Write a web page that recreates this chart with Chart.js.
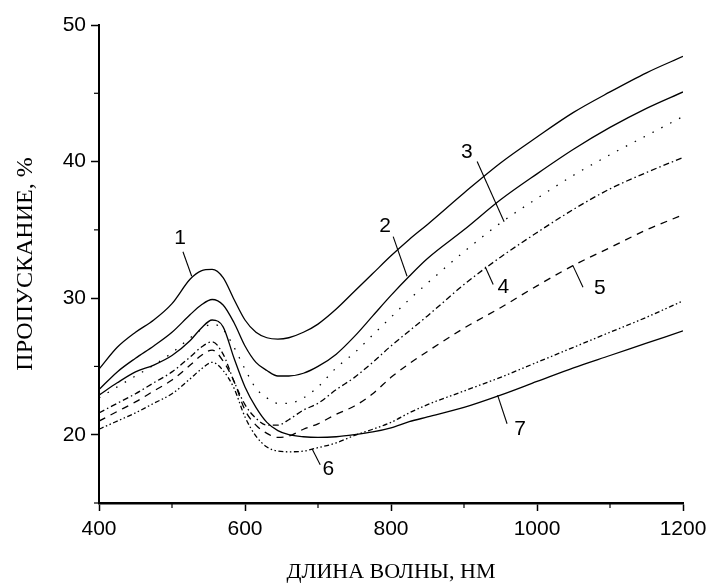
<!DOCTYPE html>
<html>
<head>
<meta charset="utf-8">
<script src="https://cdn.jsdelivr.net/npm/chart.js@4/dist/chart.umd.min.js"></script>
<style>
  html, body { margin: 0; padding: 0; background: #fff; }
  #wrap { width: 713px; height: 583px; }
</style>
</head>
<body>
<div id="wrap"><canvas id="chart" width="713" height="583"></canvas></div>
<script>
'use strict';

// wavelength grid (nm) shared by every curve
var wavelengths = [400, 425, 450, 475, 500, 525, 540, 555, 570, 585, 600, 615, 630, 645, 660,
                   680, 700, 725, 750, 775, 800, 825, 850, 900, 950, 1000, 1050, 1100, 1150, 1200];

// transmission, %
var curve1 = [24.8, 26.4, 27.5, 28.4, 29.6, 31.4, 32.0, 32.1, 31.5, 29.9, 28.4, 27.5, 27.1, 27.0, 27.1,
              27.5, 28.1, 29.2, 30.5, 31.8, 33.1, 34.3, 35.4, 37.7, 39.9, 41.8, 43.6, 45.1, 46.5, 47.7];
var curve2 = [23.3, 24.6, 25.6, 26.5, 27.5, 28.8, 29.5, 29.9, 29.5, 28.2, 26.5, 25.3, 24.7, 24.3, 24.3,
              24.5, 25.0, 25.9, 27.2, 28.7, 30.2, 31.6, 32.9, 35.0, 37.2, 39.1, 40.9, 42.5, 43.9, 45.1];
var curve3 = [22.7, 23.5, 24.3, 25.1, 26.0, 27.1, 27.7, 28.1, 27.7, 26.4, 24.8, 23.4, 22.7, 22.3, 22.3,
              22.7, 23.5, 24.9, 26.0, 27.3, 28.6, 29.9, 31.1, 33.4, 35.5, 37.3, 39.0, 40.5, 41.9, 43.3];
var curve4 = [21.6, 22.3, 23.0, 23.8, 24.6, 25.7, 26.4, 26.8, 25.9, 23.9, 22.2, 21.2, 20.7, 20.7, 21.1,
              21.8, 22.3, 23.3, 24.2, 25.3, 26.5, 27.6, 28.7, 31.0, 33.0, 34.8, 36.5, 38.0, 39.2, 40.3];
var curve5 = [21.0, 21.7, 22.4, 23.2, 24.0, 25.1, 25.8, 26.2, 25.4, 23.9, 21.8, 20.7, 20.1, 19.8, 19.9,
              20.4, 20.8, 21.5, 22.1, 23.0, 24.2, 25.2, 26.1, 27.8, 29.3, 30.9, 32.4, 33.7, 35.0, 36.1];
var curve6 = [20.4, 21.0, 21.6, 22.3, 23.0, 24.1, 24.8, 25.3, 24.7, 23.4, 21.3, 19.9, 19.1, 18.8, 18.75,
              18.8, 19.05, 19.4, 19.95, 20.4, 20.9, 21.6, 22.2, 23.2, 24.2, 25.3, 26.4, 27.5, 28.6, 29.8];
var curve7 = [22.9, 23.8, 24.6, 25.1, 25.8, 26.9, 27.8, 28.4, 27.9, 25.6, 23.5, 22.0, 20.9, 20.3, 20.0,
              19.85, 19.8, 19.85, 20.0, 20.2, 20.5, 20.95, 21.3, 22.0, 22.9, 23.9, 24.9, 25.8, 26.7, 27.6];

var xTickValues = [400, 600, 800, 1000, 1200];
var yTickValues = [20, 30, 40, 50];
var xMinorTicks = [500, 700, 900, 1100];
var yMinorTicks = [15, 25, 35, 45];

// curve numbers, in data units: text position, leader line start and end
var curveNames = ['1', '2', '3', '4', '5', '6', '7'];
var nameAt     = [[511, 34.4], [792, 35.3], [904, 40.7], [954, 30.8], [1086, 30.7], [714, 17.5], [977, 20.4]];
var leaderFrom = [[515, 33.4], [803, 34.5], [918, 40.0], [929, 32.3], [1049, 32.4], [692, 18.95], [946, 22.9]];
var leaderTo   = [[527, 31.6], [822, 31.6], [955, 35.6], [940, 31.0], [1063, 30.8], [703, 17.8], [959, 20.8]];

var dashes = [[], [], [1.5, 8.5], [6, 3, 1.5, 3], [7, 6], [5, 2.5, 1.5, 2.5, 1.5, 2.5], []];
var curves = [curve1, curve2, curve3, curve4, curve5, curve6, curve7];

function toPoints(values) {
    return wavelengths.map(function(w, i) {
        return { x: w, y: values[i] };
    });
}

var datasets = curves.map(function(values, i) {
    return {
        label: curveNames[i],
        data: toPoints(values),
        borderColor: '#000',
        borderWidth: 1.3,
        borderDash: dashes[i],
        pointRadius: 0,
        fill: false,
        cubicInterpolationMode: 'monotone'
    };
});

// minor ticks and curve numbers with their leader lines
var annotations = {
    id: 'annotations',
    afterDatasetsDraw: function(chart) {
        var ctx = chart.ctx;
        var xs = chart.scales.x;
        var ys = chart.scales.y;
        ctx.save();
        ctx.strokeStyle = '#000';
        ctx.lineWidth = 1.2;

        xMinorTicks.forEach(function(v) {
            var px = xs.getPixelForValue(v);
            ctx.beginPath();
            ctx.moveTo(px, xs.top);
            ctx.lineTo(px, xs.top + 5);
            ctx.stroke();
        });
        yMinorTicks.forEach(function(v) {
            var py = ys.getPixelForValue(v);
            ctx.beginPath();
            ctx.moveTo(ys.right - 5, py);
            ctx.lineTo(ys.right, py);
            ctx.stroke();
        });

        ctx.lineWidth = 1.1;
        for (var i = 0; i < curveNames.length; i++) {
            ctx.beginPath();
            ctx.moveTo(xs.getPixelForValue(leaderFrom[i][0]), ys.getPixelForValue(leaderFrom[i][1]));
            ctx.lineTo(xs.getPixelForValue(leaderTo[i][0]), ys.getPixelForValue(leaderTo[i][1]));
            ctx.stroke();
        }

        ctx.fillStyle = '#000';
        ctx.font = '21px "Liberation Sans"';
        ctx.textAlign = 'center';
        ctx.textBaseline = 'middle';
        for (var j = 0; j < curveNames.length; j++) {
            ctx.fillText(curveNames[j], xs.getPixelForValue(nameAt[j][0]), ys.getPixelForValue(nameAt[j][1]));
        }
        ctx.restore();
    }
};

function plainNumber(v) {
    return String(v);
}

new Chart(document.getElementById('chart').getContext('2d'), {
    type: 'line',
    data: { datasets: datasets },
    plugins: [annotations],
    options: {
        responsive: false,
        animation: false,
        layout: { padding: { top: 25, right: 30, left: 0, bottom: 0 } },
        plugins: {
            legend: { display: false },
            tooltip: { enabled: false }
        },
        scales: {
            x: {
                type: 'linear',
                min: 400,
                max: 1200,
                afterBuildTicks: function(s) {
                    s.ticks = xTickValues.map(function(v) { return { value: v }; });
                },
                afterFit: function(s) { s.height = 80; },
                grid: { drawOnChartArea: false, drawTicks: true, tickLength: 8, color: '#000', tickWidth: 1.5 },
                border: { display: true, color: '#000', width: 2.5 },
                ticks: {
                    color: '#000',
                    padding: 6,
                    maxRotation: 0,
                    autoSkip: false,
                    callback: plainNumber,
                    font: { family: 'Liberation Sans', size: 21 }
                },
                title: {
                    display: true,
                    text: 'ДЛИНА ВОЛНЫ, НМ',
                    color: '#000',
                    padding: { top: 0, bottom: 0 },
                    font: { family: 'Liberation Serif', size: 22, lineHeight: 1 }
                }
            },
            y: {
                min: 15,
                max: 50,
                afterBuildTicks: function(s) {
                    s.ticks = yTickValues.map(function(v) { return { value: v }; });
                },
                afterFit: function(s) { s.width = 99; },
                grid: { drawOnChartArea: false, drawTicks: true, tickLength: 8, color: '#000', tickWidth: 1.5 },
                border: { display: true, color: '#000', width: 2 },
                ticks: {
                    color: '#000',
                    padding: 5,
                    callback: plainNumber,
                    font: { family: 'Liberation Sans', size: 21 }
                },
                title: {
                    display: true,
                    text: 'ПРОПУСКАНИЕ, %',
                    color: '#000',
                    padding: { top: 14, bottom: 0 },
                    font: { family: 'Liberation Serif', size: 24, lineHeight: 1 }
                }
            }
        }
    }
});
</script>
</body>
</html>
